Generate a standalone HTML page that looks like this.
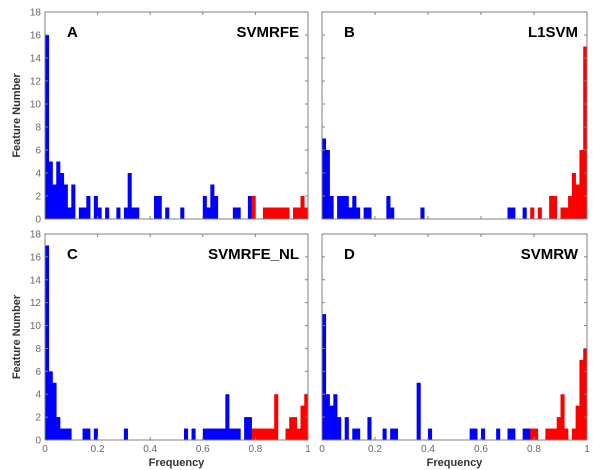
<!DOCTYPE html>
<html><head><meta charset="utf-8"><style>
body{margin:0;background:#fff;}
svg{display:block;font-family:"Liberation Sans",Arial,sans-serif;}
</style></head><body>
<svg id="chart" width="600" height="470"></svg>
<script>
const NBINS = 70;
const RED_START = 55;
const yTicks = [0,2,4,6,8,10,12,14,16,18];
const xTicks = [0,0.2,0.4,0.6,0.8,1];
const xTickLabels = ["0","0.2","0.4","0.6","0.8","1"];
const panelLetters = ["A","B","C","D"];
const panelNames = ["SVMRFE","L1SVM","SVMRFE_NL","SVMRW"];
// sparse bins: [binIndex, count]
const binsA = [[0,16],[1,5],[2,3],[3,5],[4,4],[5,3],[6,1],[7,3],[9,1],[10,1],[11,2],[13,2],[14,1],[16,1],[19,1],[21,1],[22,4],[23,1],[24,1],[29,2],[30,2],[32,1],[36,1],[42,2],[43,1],[44,3],[45,2],[50,1],[51,1],[54,2],[55,2],[58,1],[59,1],[60,1],[61,1],[62,1],[63,1],[64,1],[66,1],[67,1],[68,2],[69,1]];
const binsB = [[0,7],[1,6],[2,2],[4,2],[5,2],[6,2],[7,1],[8,2],[9,1],[11,1],[12,1],[17,2],[18,1],[26,1],[49,1],[50,1],[53,1],[55,1],[57,1],[60,2],[61,2],[63,1],[64,1],[65,2],[66,4],[67,3],[68,6],[69,15]];
const binsC = [[0,17],[1,6],[2,5],[3,2],[4,1],[5,1],[6,1],[10,1],[11,1],[13,1],[21,1],[37,1],[39,1],[42,1],[43,1],[44,1],[45,1],[46,1],[47,1],[48,4],[49,1],[50,1],[51,1],[53,2],[54,2],[55,1],[56,1],[57,1],[58,1],[59,1],[60,1],[61,4],[64,1],[65,2],[66,2],[67,1],[68,3],[69,4]];
const binsD = [[0,11],[1,4],[2,3],[3,4],[4,2],[6,2],[8,1],[9,1],[12,2],[16,1],[18,1],[19,1],[25,5],[28,1],[39,1],[40,1],[42,1],[46,1],[49,1],[50,1],[53,1],[54,1],[55,1],[56,1],[59,1],[60,1],[61,1],[62,2],[63,4],[64,1],[66,1],[67,3],[68,7],[69,8]];
const allBins = [binsA, binsB, binsC, binsD];

const NS = "http://www.w3.org/2000/svg";
const svg = document.getElementById('chart');
function mk(tag, attrs, parent){const e=document.createElementNS(NS,tag);for(const k in attrs)e.setAttribute(k,attrs[k]);(parent||svg).appendChild(e);return e;}
const boxes = [{x0:45,x1:308,y0:12,y1:219},{x0:322,x1:587,y0:12,y1:219},{x0:45,x1:308,y0:234,y1:440},{x0:322,x1:587,y0:234,y1:440}];

boxes.forEach((b,p)=>{
  const g = mk('g',{});
  
  
  const xs = v => b.x0 + v*(b.x1-b.x0);
  const ys = v => b.y1 - v/18*(b.y1-b.y0);
  const bw = (b.x1-b.x0)/NBINS;
  allBins[p].forEach(([i,c])=>{
    const r = mk('rect',{x:xs(i/NBINS),y:ys(c),width:bw+0.3,height:ys(0)-ys(c),fill:i>=RED_START?'#ff0000':'#0000ff'},g);
    
    
  });
  const fr = mk('rect',{x:b.x0,y:b.y0,width:b.x1-b.x0,height:b.y1-b.y0,fill:'none',stroke:'#808080','stroke-width':1},g);
  
  
  yTicks.forEach(t=>{
    mk('line',{x1:b.x0,x2:b.x0+3,y1:ys(t),y2:ys(t),stroke:'#808080'},g);
    mk('line',{x1:b.x1,x2:b.x1-3,y1:ys(t),y2:ys(t),stroke:'#808080'},g);
    if(p%2===0){
      const tl = mk('text',{x:b.x0-4,y:ys(t)+3.5,'text-anchor':'end','font-size':10,fill:'#666'},g);
      tl.textContent = t;
      
      
    }
  });
  xTicks.forEach((t,k)=>{
    mk('line',{x1:xs(t),x2:xs(t),y1:b.y1,y2:b.y1-3,stroke:'#808080'},g);
    mk('line',{x1:xs(t),x2:xs(t),y1:b.y0,y2:b.y0+3,stroke:'#808080'},g);
    if(p>=2){
      const tl = mk('text',{x:xs(t),y:b.y1+12,'text-anchor':'middle','font-size':10,fill:'#666'},g);
      tl.textContent = xTickLabels[k];
      
      
    }
  });
  const lt = mk('text',{x:b.x0+22,y:b.y0+25,'font-size':15,'font-weight':'bold',fill:'#000'},g);
  lt.textContent = panelLetters[p];
  
  
  const nt = mk('text',{x:b.x1-9,y:b.y0+25,'text-anchor':'end','font-size':15,'font-weight':'bold',fill:'#000'},g);
  nt.textContent = panelNames[p];
  
  
  if(p>=2){
    const xl = mk('text',{x:(b.x0+b.x1)/2,y:b.y1+26,'text-anchor':'middle','font-size':11,'font-weight':'bold',fill:'#333'},g);
    xl.textContent = 'Frequency';
    
    
  }
  if(p%2===0){
    const cy=(b.y0+b.y1)/2;
    const yl = mk('text',{x:20,y:cy,'text-anchor':'middle','font-size':11,'font-weight':'bold',fill:'#333',transform:'rotate(-90 20 '+cy+')'},g);
    yl.textContent = 'Feature Number';
    
    
  }
});
</script>
</body></html>
